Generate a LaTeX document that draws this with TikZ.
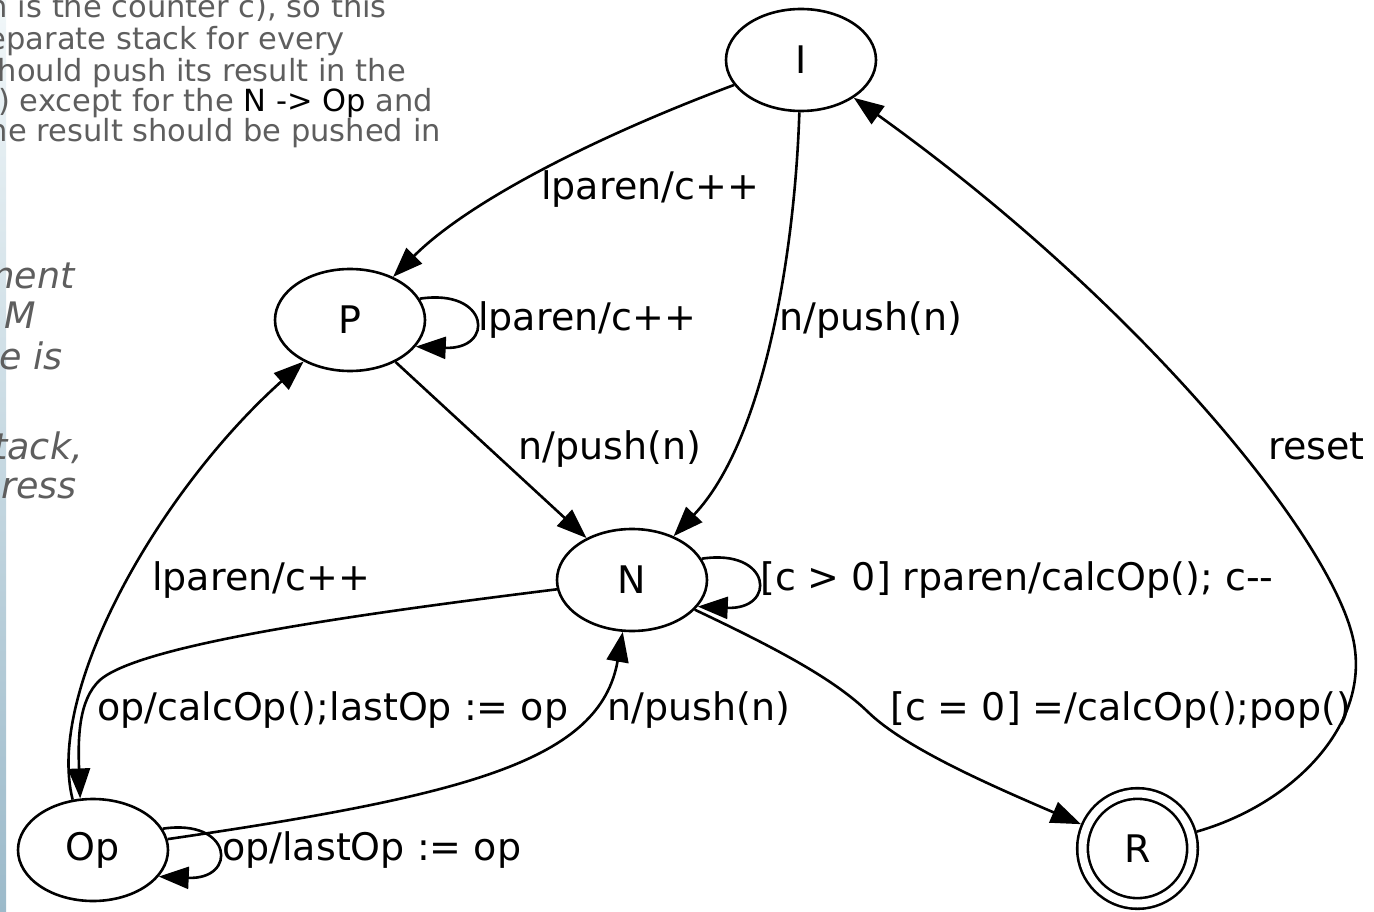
\documentclass[tikz,border=0pt]{standalone}
\usepackage{fontspec}
\setmainfont{DejaVu Sans}
\usepackage{tikz}
\usetikzlibrary{arrows.meta}
\usetikzlibrary{shapes.geometric}

\definecolor{notegray}{HTML}{5E5E5E}
\definecolor{striptop}{HTML}{F1F7F9}
\definecolor{stripbot}{HTML}{9CBACA}

\begin{document}
\begin{tikzpicture}[x=1pt,y=-1pt,
    every node/.style={font=\fontsize{38}{44}\selectfont},
    state/.style={ellipse,draw,line width=2.6pt,minimum width=150pt,minimum height=102pt,inner sep=0pt},
    accept/.style={circle,draw,line width=2.6pt,double,double distance=8pt,minimum size=110pt,inner sep=0pt,outer sep=6.5pt},
    lbl/.style={anchor=base west,inner sep=0pt},
    tr/.style={line width=2.6pt,-{Triangle[length=30pt,width=22pt]}},
    note/.style={anchor=base east,inner sep=0pt,text=notegray,font=\fontsize{30.5}{31}\selectfont},
    inote/.style={anchor=base east,inner sep=0pt,text=notegray,font=\fontsize{36.5}{40}\selectfont\itshape}]
  \useasboundingbox (0,0) rectangle (1374,912);
  \clip (0,0) rectangle (1374,912);
  \shade[top color=striptop,bottom color=stripbot] (0,0) rectangle (6,912);

  \node[note] (n1) at (387,18) {h is the counter c), so this};
  \node[note] (n2) at (345,50) {separate stack for every};
  \node[note] (n3) at (406,82) {should push its result in the};
  \node[note] (n4) at (433,112) {1) except for the {\color{black}N -> Op} and};
  \node[note] (n5) at (441,142) {the result should be pushed in};
  \node[inote] (m1) at (75,288) {ment};
  \node[inote] (m2) at (36,328) {M};
  \node[inote] (m3) at (63,369) {e is};
  \node[inote] (m4) at (83,459) {stack,};
  \node[inote] (m5) at (77,498) {ress};

  \node[state] (I) at (801,60) {I};
  \node[state] (P) at (350,320) {P};
  \node[state] (N) at (632,580) {N};
  \node[state] (Op) at (93,850) {Op};
  \node[accept] (R) at (1137.5,848.5) {R};

  \draw[tr] (I) .. controls (600,135) and (470,200) .. (P);
  \draw[tr] (I) .. controls (795,250) and (765,440) .. (N);
  \draw[tr] (P.17) .. controls (490,288) and (495,350) .. (P.-22);
  \draw[tr] (P) -- (N);
  \draw[tr] (Op.112) .. controls (45,690) and (160,490) .. (P);
  \draw[tr] (N) .. controls (350,615) and (140,645) .. (100,680) .. controls (78,700) and (78,740) .. (Op.104);
  \draw[tr] (Op) .. controls (470,795) and (600,760) .. (N);
  \draw[tr] (N.17) .. controls (772,548) and (777,610) .. (N.-22);
  \draw[tr] (N) .. controls (780,650) and (835,680) .. (868,712) .. controls (905,748) and (990,785) .. (R);
  \draw[tr] (R) .. controls (1290,805) and (1365,730) .. (1355,650) .. controls (1345,555) and (1150,310) .. (I);
  \draw[tr] (Op.17) .. controls (233,818) and (238,880) .. (Op.-22);

  \node[lbl] (tIP) at (541,200) {lparen/c++};
  \node[lbl] (tPP) at (478,330) {lparen/c++};
  \node[lbl] (tIN) at (779,330) {n/push(n)};
  \node[lbl] (tPN) at (518,459) {n/push(n)};
  \node[lbl] (tRI) at (1268,459) {reset};
  \node[lbl] (tOpP) at (152,590) {lparen/c++};
  \node[lbl] (tNN) at (760,590) {[c > 0] rparen/calcOp(); c-{}-};
  \node[lbl] (tNOp) at (97,720) {op/calcOp();lastOp := op};
  \node[lbl] (tOpN) at (607,720) {n/push(n)};
  \node[lbl] (tNR) at (890,720) {[c = 0] =/calcOp();pop()};
  \node[lbl] (tOpOp) at (222,860) {op/lastOp := op};
\end{tikzpicture}
\end{document}
